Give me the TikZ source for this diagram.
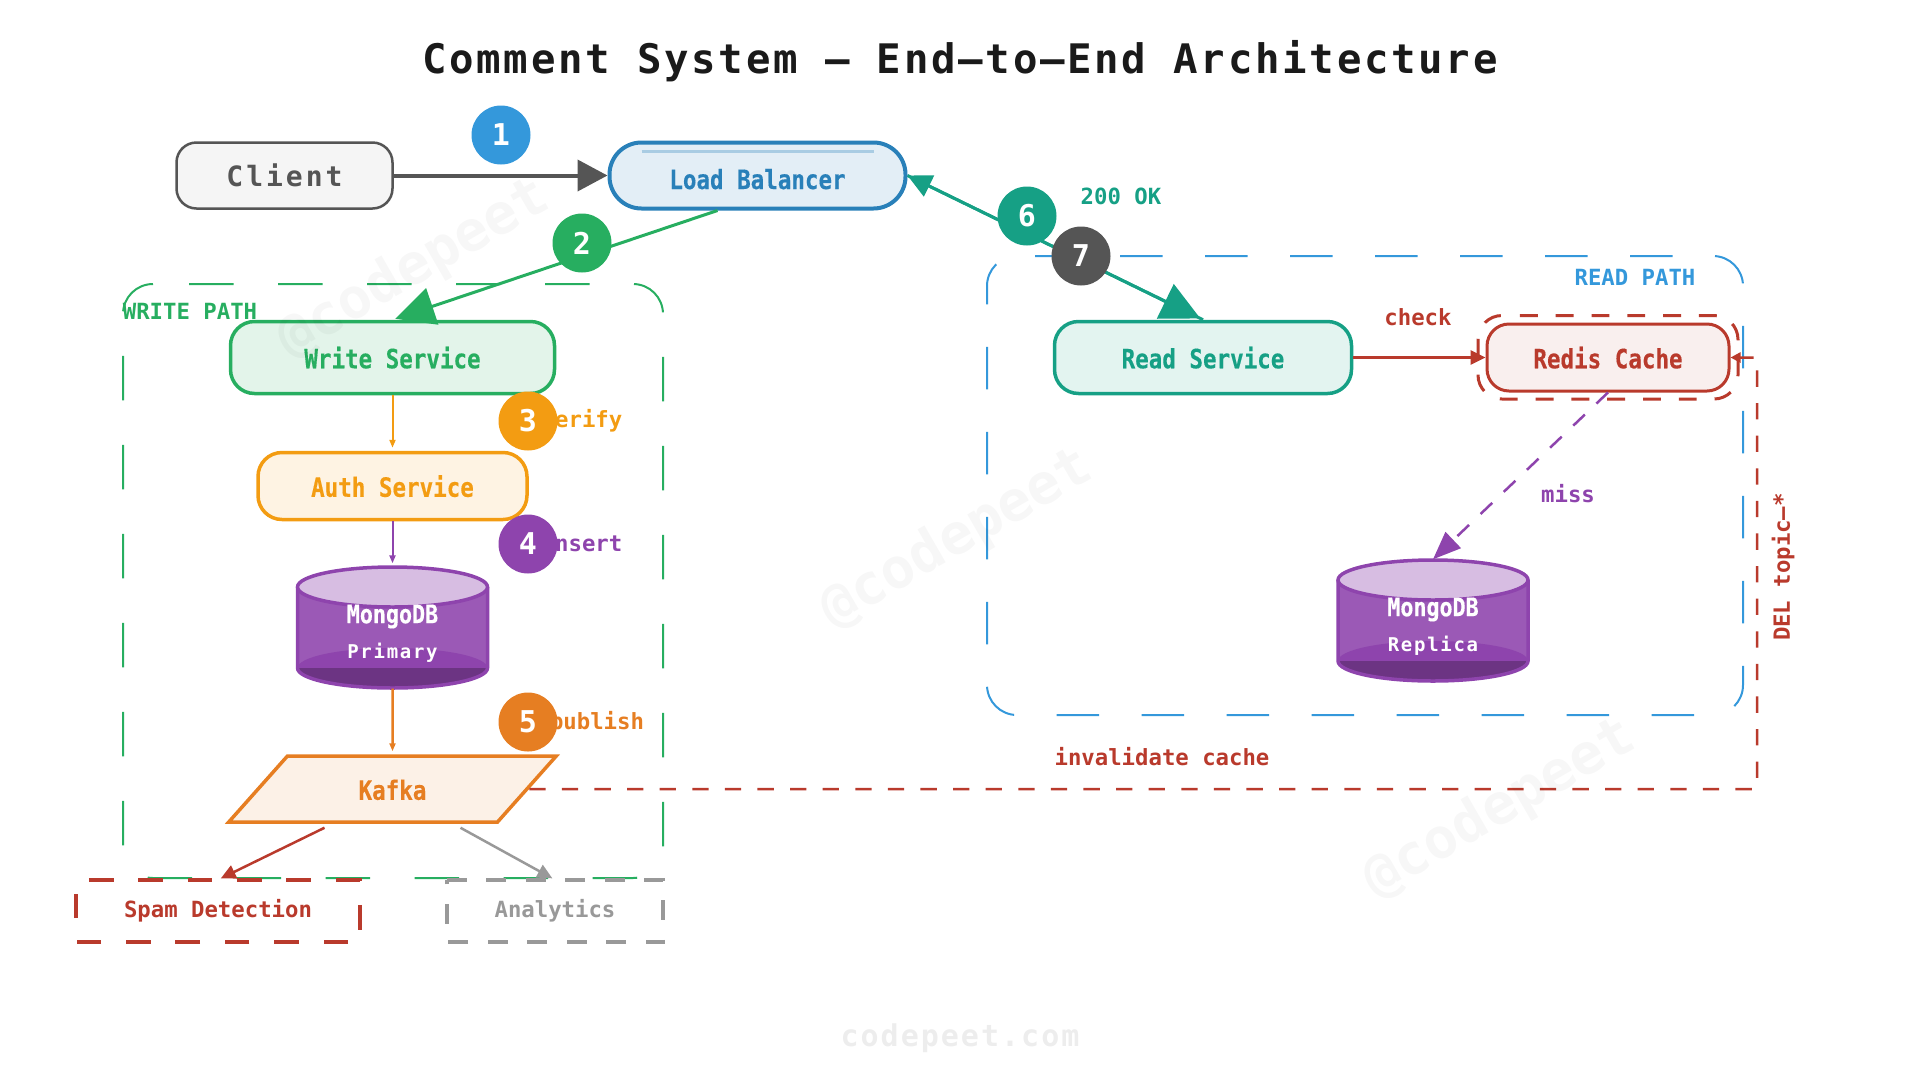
\documentclass[tikz,border=0pt]{standalone}
\usepackage{fontspec}
\setmonofont{DejaVu Sans Mono}
\newfontfamily\boxfont[FakeStretch=.85,FakeBold=.35]{DejaVu Sans Mono}
\usetikzlibrary{arrows.meta,calc,shapes.geometric}

\definecolor{inkc}{HTML}{1A1A1A}
\definecolor{clientc}{HTML}{555555}
\definecolor{lbc}{HTML}{2980B9}
\definecolor{writec}{HTML}{27AE60}
\definecolor{authc}{HTML}{F39C12}
\definecolor{dbc}{HTML}{8E44AD}
\definecolor{dbbody}{HTML}{9B59B6}
\definecolor{dblid}{HTML}{D7BDE2}
\definecolor{dbfloor}{HTML}{6C3483}
\definecolor{kafkac}{HTML}{E67E22}
\definecolor{readc}{HTML}{16A085}
\definecolor{redisc}{HTML}{B93A2C}
\definecolor{greyc}{HTML}{999999}
\definecolor{zonec}{HTML}{3498DB}

\tikzset{
	box/.style={draw,line width=3.5pt,rectangle,text height=21.5pt,text depth=0pt,font=\boxfont\bfseries\fontsize{26.5}{30}\selectfont},
	plainlbl/.style={font=\ttfamily\bfseries\fontsize{22.3}{26}\selectfont,inner sep=0pt},
	stepdot/.style={circle,minimum size=59pt,inner sep=0pt,text=white,font=\ttfamily\bfseries\fontsize{30}{34}\selectfont},
	dbnode/.style={rectangle,minimum width=190pt,minimum height=122pt,inner sep=0pt},
	dbtop/.style={text=white,inner sep=0pt,font=\boxfont\bfseries\fontsize{25.5}{30}\selectfont},
	dbsub/.style={text=white,inner sep=0pt,font=\ttfamily\bfseries\fontsize{19}{24}\selectfont\addfontfeature{LetterSpace=9}},
	watermark/.style={text=black,text opacity=.03,rotate=30,font=\ttfamily\bfseries\fontsize{56}{60}\selectfont},
	zoneline/.style={line width=2pt,rounded corners=30pt},
	tiphuge/.style={-{Triangle[length=39pt,width=38pt]},line width=3pt,shorten >=3pt},
	tipthin/.style={-{Triangle[length=8pt,width=6pt]},shorten >=3pt},
	tipmid/.style={-{Triangle[length=15pt,width=14pt]}}
}

% draws the drum into the empty node #1
\newcommand{\dbshape}[1]{
	\fill[dbbody] ($(#1)+(-95,-40.5)$) rectangle ($(#1)+(95,40.5)$);
	\fill[dbc] ($(#1)+(0,40.5)$) ellipse [x radius=95pt,y radius=20pt];
	\fill[dbfloor] ($(#1)+(-95,40.5)$) arc [start angle=180,end angle=360,x radius=95pt,y radius=20pt] -- cycle;
	\draw[dbc,line width=3.5pt] ($(#1)+(-95,-40.5)$) -- ($(#1)+(-95,40.5)$) arc [start angle=180,end angle=360,x radius=95pt,y radius=20pt] -- ($(#1)+(95,-40.5)$);
	\draw[dbc,line width=3.5pt,fill=dblid] ($(#1)+(0,-40.5)$) ellipse [x radius=95pt,y radius=20pt];
}

\begin{document}
\begin{tikzpicture}[x=1pt,y=-1pt,>=Stealth,node distance=100pt]
\useasboundingbox (0,0) rectangle (1920,1080);

% zones
\draw[zoneline,writec,dash pattern=on 44.5pt off 44.5pt,dash phase=53pt] (123,284) -- (663,284) -- (663,878) -- (123,878) -- cycle;
\draw[zoneline,zonec,dash pattern=on 42.5pt off 42.5pt,dash phase=67pt] (987,256) -- (1743,256) -- (1743,715) -- (987,715) -- cycle;
\node[plainlbl,text=writec] (writezone) at (190,311) {WRITE PATH};
\node[plainlbl,text=zonec] (readzone) at (1635,277) {READ PATH};

\node[inkc,inner sep=0pt,font=\ttfamily\bfseries\fontsize{40.7}{46}\selectfont\addfontfeature{LetterSpace=6.7}] (title) at (960,61) {Comment System — End–to–End Architecture};

% top row
\node[box,clientc,fill=clientc!6!white,line width=2.5pt,rounded corners=20pt,minimum width=216pt,minimum height=66pt,font=\ttfamily\bfseries\fontsize{28}{32}\selectfont\addfontfeature{LetterSpace=10.7}] (client) at (284.5,175.5) {Client};
\node[box,lbc,fill=lbc!13!white,line width=4pt,rounded corners=32pt,minimum width=296pt,minimum height=66pt,text height=27pt] (lb) [right of=client,node distance=473pt] {Load Balancer};
\draw[lbc!40!white,line width=3pt] ($(lb.north west)+(34,11)$) -- ($(lb.north east)+(-34,11)$);

% write side
\node[box,writec,fill=writec!13!white,rounded corners=24pt,minimum width=324pt,minimum height=72pt] (ws) at (392.5,357.5) {Write Service};
\node[box,authc,fill=authc!12!white,rounded corners=24pt,minimum width=269pt,minimum height=67pt] (auth) [below of=ws,node distance=128.5pt] {Auth Service};
\node[dbnode] (mongop) [below of=auth,node distance=141.5pt] {};
\dbshape{mongop}
\node[dbtop] (mongoptop) [above of=mongop,node distance=11pt] {MongoDB};
\node[dbsub] (mongopsub) [below of=mongop,node distance=25pt] {Primary};
\node[trapezium,trapezium left angle=48.6,trapezium right angle=131.4,trapezium stretches=true,draw,kafkac,fill=kafkac!11!white,line width=3.5pt,minimum width=328pt,minimum height=66pt,inner sep=0pt,text height=21.5pt,text depth=0pt,font=\boxfont\bfseries\fontsize{26.5}{30}\selectfont] (kafka) [below of=mongop,node distance=161.5pt] {Kafka};

\node[plainlbl,text=redisc,minimum width=284pt,minimum height=62pt] (spam) at (218,911) {Spam Detection};
\node[plainlbl,text=greyc,minimum width=216pt,minimum height=62pt] (ana) [right of=spam,node distance=337pt] {Analytics};
\draw[redisc,line width=3.5pt,dash pattern=on 24.7pt off 24.7pt,dash phase=36.4pt] (spam.north west) -- (spam.north east) -- (spam.south east) -- (spam.south west) -- cycle;
\draw[greyc,line width=3.5pt,dash pattern=on 19.75pt off 19.75pt] (ana.north west) -- (ana.north east) -- (ana.south east) -- (ana.south west) -- cycle;

% read side
\node[box,readc,fill=readc!12!white,rounded corners=24pt,minimum width=297pt,minimum height=72pt] (rs) [right of=ws,node distance=810.5pt] {Read Service};
\node[box,redisc,fill=redisc!8!white,line width=3pt,rounded corners=22pt,minimum width=242pt,minimum height=67pt] (redis) [right of=rs,node distance=405pt] {Redis Cache};
\draw[redisc,line width=3pt,rounded corners=24pt,dash pattern=on 17.9pt off 17.9pt,dash phase=17.9pt] (1478,315.5) -- (1738,315.5) -- (1738,399) -- (1478,399) -- cycle;
\node[dbnode] (mongor) at (1433,620.5) {};
\dbshape{mongor}
\node[dbtop] (mongortop) [above of=mongor,node distance=11pt] {MongoDB};
\node[dbsub] (mongorsub) [below of=mongor,node distance=25pt] {Replica};

% connectors
\coordinate (corner) at (1757,789);
\draw[-{Triangle[length=30pt,width=31pt]},clientc,line width=4pt] (client) -- (lb);
\path[writec,tiphuge] ($(lb.south)+(-40,0)$) edge (ws.north);
\path[readc,-{Triangle[length=24pt,width=23pt]},line width=3pt] (rs.north) edge (lb.east);
\path[readc,tiphuge] (lb.east) edge (rs.north);
\path[authc,tipthin,line width=2pt] (ws) edge (auth);
\path[dbc,tipthin,line width=2pt] (auth) edge (mongop);
\path[kafkac,tipthin,line width=2.5pt] (mongop) edge (kafka);
\path[redisc,tipmid,line width=2.5pt,shorten >=3pt] ($(kafka.south)+(-68,4)$) edge (spam.north);
\path[greyc,tipmid,line width=2.5pt,shorten >=3pt] ($(kafka.south)+(68,4)$) edge (ana.north);
\path[redisc,tipmid,line width=3pt] (rs) edge (redis);
\path[dbc,-{Triangle[length=28pt,width=22pt]},line width=2.5pt,dash pattern=on 16pt off 16pt] (redis.south) edge (mongor.north);
\draw[redisc,-{Triangle[length=10pt,width=10pt]},line width=2.5pt,dash pattern=on 16.3pt off 16.3pt] (kafka.east) -- (corner) |- (redis.east);

% labels on the flows
\node[plainlbl,text=authc] (verify) at (582,421) {verify};
\node[plainlbl,text=dbc] (insert) at (582,543) {insert};
\node[plainlbl,text=kafkac] (publish) at (597,723) {publish};
\node[plainlbl,text=readc] (okay) at (1121,196) {200 OK};
\node[plainlbl,text=redisc] (check) at (1418,317) {check};
\node[plainlbl,text=dbc] (miss) at (1568,494) {miss};
\node[plainlbl,text=redisc] (inval) at (1162,757) {invalidate cache};
\node[plainlbl,text=redisc,rotate=90] (del) at (1783,567) {DEL topic–*};

% numbered dots
\node[stepdot,fill=zonec] (one) at (501,135) {1};
\node[stepdot,fill=writec] (two) at (582,243) {2};
\node[stepdot,fill=authc] (three) at (528,421) {3};
\node[stepdot,fill=dbc] (four) at (528,544) {4};
\node[stepdot,fill=kafkac] (five) at (528,722) {5};
\node[stepdot,fill=readc] (six) at (1027,216) {6};
\node[stepdot,fill=clientc] (seven) at (1081,256) {7};

% faint marks
\node[watermark] (markone) at (414,269) {@codepeet};
\node[watermark] (marktwo) at (957,539) {@codepeet};
\node[watermark] (markthree) at (1500,809) {@codepeet};
\node[text=black,text opacity=.07,inner sep=0pt,font=\ttfamily\bfseries\fontsize{30}{34}\selectfont\addfontfeature{LetterSpace=6.7}] (site) at (960,1038) {codepeet.com};
\end{tikzpicture}
\end{document}
